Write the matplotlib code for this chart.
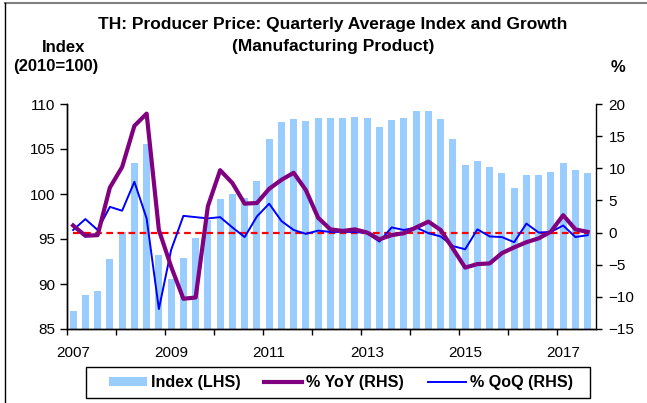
import numpy as np
import matplotlib
matplotlib.use('Agg')
import matplotlib.pyplot as plt
from matplotlib.patches import Patch, Rectangle
from matplotlib.lines import Line2D

plt.rcParams['font.family'] = ['Liberation Sans', 'DejaVu Sans']

# quarterly data 2007Q1 - 2017Q3
years = ['2007', '2009', '2011', '2013', '2015', '2017']
index_lhs = [87.0, 88.8, 89.2, 92.8, 95.8, 103.5, 105.6, 93.2,
             90.6, 92.9, 95.1, 97.1, 99.4, 100.0, 99.6, 101.5,
             106.1, 108.0, 108.3, 108.1, 108.5, 108.5, 108.5, 108.6,
             108.4, 107.4, 108.2, 108.4, 109.2, 109.2, 108.3, 106.1,
             103.2, 103.7, 103.0, 102.3, 100.7, 102.1, 102.1, 102.4,
             103.5, 102.7, 102.3]
yoy = [1.1, -0.5, -0.4, 7.0, 10.2, 16.6, 18.5, 0.4,
       -5.3, -10.3, -10.1, 4.1, 9.7, 7.7, 4.5, 4.6,
       6.8, 8.2, 9.3, 6.6, 2.3, 0.5, 0.25, 0.5,
       0.0, -1.05, -0.4, -0.1, 0.8, 1.7, 0.4, -2.5,
       -5.45, -4.9, -4.8, -3.2, -2.3, -1.5, -0.9, 0.15,
       2.7, 0.5, 0.1]
qoq = [0.4, 2.1, 0.4, 4.0, 3.4, 7.9, 2.2, -11.9,
       -2.7, 2.6, 2.4, 2.2, 2.4, 0.8, -0.7, 2.5,
       4.5, 1.8, 0.4, -0.2, 0.3, 0.1, 0.1, 0.1,
       -0.1, -1.4, 0.8, 0.4, 0.8, -0.1, -0.6, -2.1,
       -2.6, 0.5, -0.6, -0.7, -1.5, 1.4, 0.0, 0.1,
       1.1, -0.7, -0.4]
zero_line = [0.0] * len(yoy)

x = np.arange(len(index_lhs))

fig = plt.figure(figsize=(6.47, 4.03), dpi=100)
ax = fig.add_axes([67/647, 1-329/403, (596-67)/647, (329-104)/403])
ax2 = ax.twinx()

# bars (LHS)
ax.bar(x, index_lhs, width=0.57, color='#99CCFF', zorder=2)
ax.set_ylim(85, 110)
ax.set_yticks([85, 90, 95, 100, 105, 110])
ax.set_xlim(-0.5, 42.68)
ax.set_xticks(x[::8])
ax.set_xticklabels(years)
ax.set_xticks(np.arange(-0.5, 42, 4), minor=True)
ax.tick_params(axis='x', which='major', length=0, pad=12, labelsize=11)
ax.tick_params(axis='x', which='minor', length=4, direction='out', width=1)
ax.tick_params(axis='y', length=5, direction='out', labelsize=11, width=1)

# lines (RHS)
ax2.plot(x, zero_line, color='#FF0000', lw=1.6, ls=(0, (3, 2)), zorder=2)
ax2.plot(x, qoq, color='#0000FF', lw=1.4, zorder=3)
ax2.plot(x, yoy, color='#800080', lw=3.0, zorder=4)
ax2.set_ylim(-15, 20)
ax2.set_yticks(range(-15, 21, 5))
ax2.tick_params(axis='y', length=4, direction='out', labelsize=11, width=1, pad=5)

for a in (ax, ax2):
    a.spines['top'].set_visible(False)
    for s in ('left', 'right', 'bottom'):
        a.spines[s].set_linewidth(1)
ax.spines['right'].set_visible(False)

# titles
fig.text(333/647, 1-25/403, 'TH: Producer Price: Quarterly Average Index and Growth',
         ha='center', va='center', fontsize=12.5, fontweight='bold')
fig.text(333/647, 1-47/403, '(Manufacturing Product)',
         ha='center', va='center', fontsize=12.5, fontweight='bold')
fig.text(64/647, 1-47/403, 'Index', ha='center', va='center', fontsize=12, fontweight='bold')
fig.text(56/647, 1-67/403, '(2010=100)', ha='center', va='center', fontsize=12, fontweight='bold')
fig.text(618/647, 1-68/403, '%', ha='center', va='center', fontsize=12, fontweight='bold')

# legend
handles = [Patch(facecolor='#99CCFF', edgecolor='none'),
           Line2D([], [], color='#800080', lw=3.0),
           Line2D([], [], color='#0000FF', lw=1.4)]
labels = ['Index (LHS)', '% YoY (RHS)', '% QoQ (RHS)']
fig.legend(handles, labels, loc='center', bbox_to_anchor=(341/647, 1-382.5/403),
           ncol=3, frameon=False, handlelength=2.35, handleheight=0.45,
           handletextpad=0.25, columnspacing=1.5,
           prop={'weight': 'bold', 'size': 11.6})
fig.add_artist(Rectangle((86/647, 1-398/403), (590-86)/647, (398-367)/403,
                         transform=fig.transFigure, fill=False, edgecolor='black', lw=1))

# outer frame
fig.add_artist(Line2D([5/647, 1], [1-2.5/403, 1-2.5/403], color='#808080', lw=1.5))
fig.add_artist(Line2D([5/647, 5/647], [0, 1-2.5/403], color='black', lw=1))

fig.savefig('out.png', dpi=100)
